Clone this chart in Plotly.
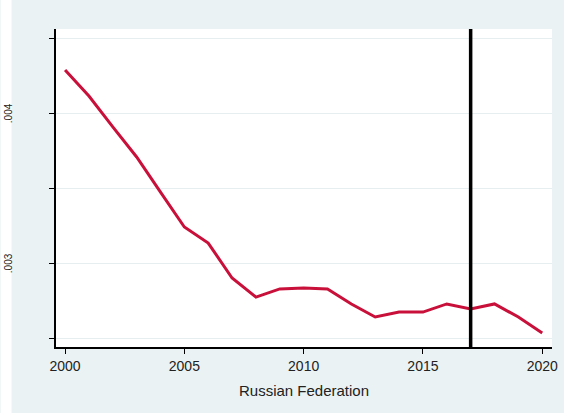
import plotly.graph_objects as go

years = list(range(2000, 2021))
values = [0.004287, 0.004113, 0.003907, 0.003707, 0.003473, 0.003240, 0.003133,
          0.002900, 0.002773, 0.002827, 0.002833, 0.002827, 0.002727, 0.002640,
          0.002673, 0.002673, 0.002727, 0.002693, 0.002727, 0.002640, 0.002533]
x_ticks = [2000, 2005, 2010, 2015, 2020]
y_ticks = [0.0025, 0.003, 0.0035, 0.004, 0.0045]
y_labels = [(0.004, ".004"), (0.003, ".003")]
event_year = 2017
x_title = "Russian Federation"

W, H = 564, 413
L, R, T, B = 56, 6, 29, 66
pw = W - L - R

fig = go.Figure()
fig.add_trace(go.Scatter(x=years, y=values, mode="lines",
                         line=dict(color="#C8103A", width=3), hoverinfo="skip"))

fig.add_shape(type="line", xref="x", yref="paper", x0=event_year, x1=event_year,
              y0=0, y1=1, line=dict(color="black", width=3.5), layer="above")
# white strip at far left
fig.add_shape(type="rect", xref="paper", yref="paper", x0=-L / pw, x1=-(L - 11) / pw,
              y0=-2, y1=2, fillcolor="white", line=dict(width=0), layer="below")

for v, t in y_labels:
    fig.add_annotation(x=-L / pw, xref="paper", y=v, yref="y", text=t, showarrow=False,
                       textangle=-90, xanchor="left", xshift=0,
                       font=dict(family="Liberation Sans, Arial", size=10, color="#222"))

fig.update_layout(
    width=W, height=H,
    margin=dict(l=L, r=R, t=T, b=B),
    paper_bgcolor="#EAF2F3", plot_bgcolor="white",
    showlegend=False,
    font=dict(family="Liberation Sans, Arial", color="#222"),
)
fig.update_xaxes(range=[1999.62, 2020.41], tickvals=x_ticks, ticks="outside", ticklen=5,
                 tickcolor="black", showline=True, linecolor="black", linewidth=1.5,
                 showgrid=False, zeroline=False, tickfont=dict(size=14),
                 title=dict(text=x_title, font=dict(size=15), standoff=13))
fig.update_yaxes(range=[0.00244, 0.00456], tickvals=y_ticks, showticklabels=False,
                 ticks="outside", ticklen=5, tickcolor="black", showline=True,
                 linecolor="black", linewidth=1.5, showgrid=True, gridcolor="#E6EEF0",
                 gridwidth=1, zeroline=False)

fig.write_html("out.html")
